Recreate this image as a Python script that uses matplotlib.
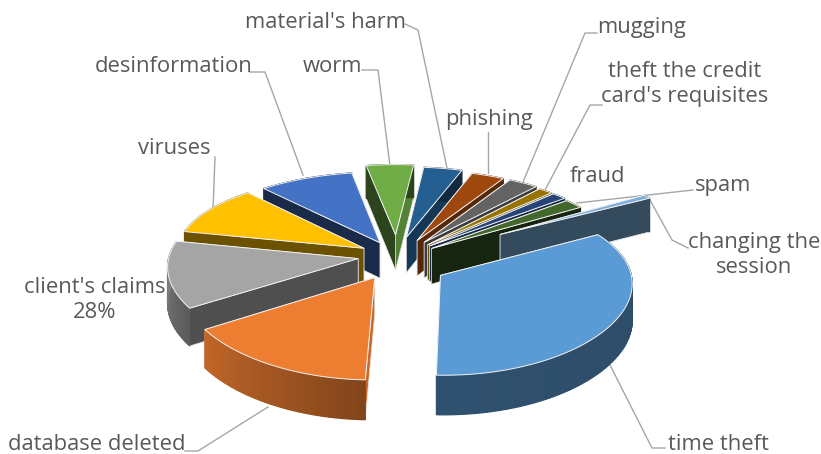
import numpy as np
from matplotlib import pyplot as plt
from matplotlib.colors import to_rgb
from matplotlib.patches import Polygon

categories = [
    "time theft", "database deleted", "client's claims", "viruses",
    "desinformation", "worm", "material's harm", "phishing", "mugging",
    "theft the credit card's requisites", "fraud", "spam", "changing the session",
]
shares = [33.9, 15.3, 12.5, 10.0, 8.9, 4.4, 3.6, 3.1, 2.8, 1.4, 1.4, 1.9, 0.8]
colors = [
    "#5b9bd5", "#ed7d31", "#a5a5a5", "#ffc000", "#4472c4", "#70ad47", "#255e91",
    "#9e480e", "#636363", "#997300", "#264478", "#43682b", "#7cafdd",
]
# shading of the cut faces
wall_shade = [0.50, 0.85, 0.48, 0.42, 0.38, 0.40, 0.45, 0.55, 0.6, 0.6, 0.6, 0.35, 0.42]
end_wall_shade = {5: 0.75, 6: 0.6}
explosions = [0.235] * 12 + [0.657]
# small per slice shifts, in pixels
nudges = [(3, 7), (-2, 2), (3, -3), (3, 0), (0, 2), (-2, -4), (-2, -2), (0, 0),
          (0, 0), (-1, 1), (-2, 1), (-3, 2), (-2, 4)]
start_angle = 60.0

# camera
cx, cy = 399, 258
rx, ry = 189, 84
k_x, k_y = 0.08, 0.13
depth = 36


def project(x, y, z=0.0, shift=(0, 0)):
    sx = cx + rx * x / (1 + k_x * y)
    sy = cy - ry * y / (1 + k_y * y)
    return sx + shift[0], sy + z * depth / (1 + k_x * y) + shift[1]


def shade(c, f):
    return tuple(v * f for v in to_rgb(c))


def draw_slice(a0, a1, color, f, i):
    mid = np.radians((a0 + a1) / 2)
    ex, ey = explosions[i] * np.sin(mid), explosions[i] * np.cos(mid)
    th = np.radians(np.linspace(a0, a1, max(int(a1 - a0), 3)))
    rim_x, rim_y = ex + np.sin(th), ey + np.cos(th)
    sh = nudges[i]

    # cut faces first, far one before near one, the top hides what faces away
    cuts = sorted([(th[0], wall_shade[i]), (th[-1], end_wall_shade.get(i, wall_shade[i]))],
                  key=lambda c: -np.cos(c[0]))
    for t, fc in cuts:
        p0 = project(ex, ey, 0, sh)
        p1 = project(ex + np.sin(t), ey + np.cos(t), 0, sh)
        p2 = project(ex + np.sin(t), ey + np.cos(t), 1, sh)
        p3 = project(ex, ey, 1, sh)
        ax.add_patch(Polygon([p0, p1, p2, p3], fc=shade(color, fc), ec="#e4e4e4",
                             lw=0.5, zorder=i_z[i]))

    # rim wall in strips for the gradient
    for j in range(len(th) - 1):
        u = j / (len(th) - 1)
        f2 = f[0] + (f[1] - f[0]) * u
        q = [
            project(rim_x[j], rim_y[j], 0, sh), project(rim_x[j + 1], rim_y[j + 1], 0, sh),
            project(rim_x[j + 1], rim_y[j + 1], 1, sh), project(rim_x[j], rim_y[j], 1, sh),
        ]
        ax.add_patch(Polygon(q, fc=shade(color, f2), ec=shade(color, f2), lw=0.9, zorder=i_z[i]))

    top = [project(ex, ey, 0, sh)] + [project(a, b, 0, sh) for a, b in zip(rim_x, rim_y)]
    ax.add_patch(Polygon(top, fc=color, ec="#f2f2f2", lw=0.7, zorder=i_z[i] + 0.5))


fig = plt.figure(figsize=(8.21, 4.54), dpi=100)
ax = fig.add_axes([0, 0, 1, 1])
ax.set_xlim(0, 821)
ax.set_ylim(454, 0)
ax.axis("off")
plt.rcParams["font.family"] = ["Open Sans", "DejaVu Sans"]

ends = start_angle + np.cumsum(shares) * 3.6
starts = ends - np.array(shares) * 3.6
mids = np.radians((starts + ends) / 2)
# far slices first
order = np.argsort(-np.cos(mids))
i_z = {i: 2 + n for n, i in enumerate(order)}
rim_shades = {0: (0.48, 0.52), 1: (0.55, 0.82), 2: (0.55, 0.82)}
for i in range(len(shares)):
    f = rim_shades.get(i, (wall_shade[i], wall_shade[i]))
    draw_slice(starts[i], ends[i], colors[i], f, i)
i_z_top = max(i_z.values()) + 2

label_color = "#595959"
leader = "#a6a6a6"
labels = [
    (668, 444, "time theft", "left"),
    (8, 444, "database deleted", "left"),
    (95, 300, "client's claims\n28%", "center"),
    (138, 148, "viruses", "left"),
    (95, 67, "desinformation", "left"),
    (303, 67, "worm", "left"),
    (245, 22, "material's harm", "left"),
    (445, 120, "phishing", "left"),
    (597, 28, "mugging", "left"),
    (685, 84, "theft the credit\ncard's requisites", "center"),
    (570, 176, "fraud", "left"),
    (695, 185, "spam", "left"),
    (754, 255, "changing the\nsession", "center"),
]
for x, y, s, ha in labels:
    ax.text(x, y, s, ha=ha, va="center", fontsize=15.8, color=label_color,
            linespacing=1.2, zorder=i_z_top)

leaders = [
    [(665, 448), (652, 448), (610, 365)],
    [(185, 451), (198, 451), (268, 407)],
    [(215, 157), (213, 210)],
    [(250, 72), (265, 72), (303, 175)],
    [(362, 70), (378, 70), (390, 166)],
    [(405, 24), (418, 30), (447, 168)],
    [(488, 132), (488, 173)],
    [(597, 33), (585, 33), (523, 182)],
    [(602, 105), (590, 105), (545, 190)],
    [(693, 190), (577, 203)],
    [(650, 200), (672, 240), (688, 248)],
]
for pts in leaders:
    xs, ys = zip(*pts)
    ax.plot(xs, ys, color=leader, lw=1.0, zorder=1)

fig.savefig("out.png", dpi=100)
